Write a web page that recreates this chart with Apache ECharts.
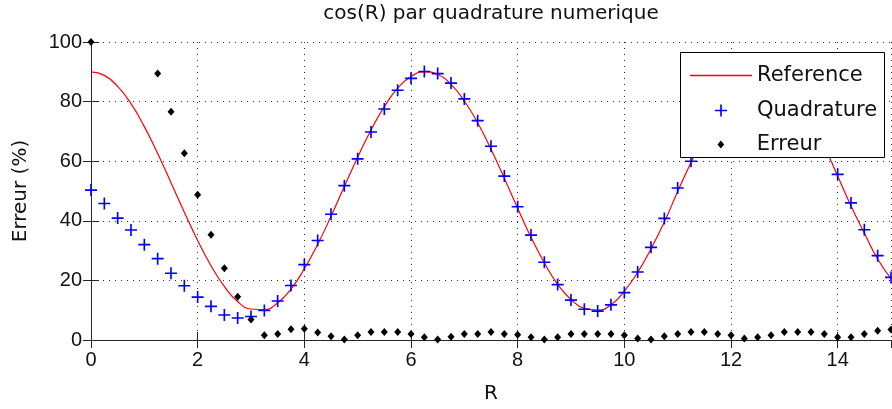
<!DOCTYPE html>
<html><head><meta charset="utf-8">
<script src="https://cdn.jsdelivr.net/npm/echarts@6/dist/echarts.min.js"></script>
<style>html,body{margin:0;padding:0;background:#fff}#c{width:892px;height:409px}</style>
</head><body><div id="c"></div>
<script>
// ---- data ----
const rValues = [0, 0.25, 0.5, 0.75, 1, 1.25, 1.5, 1.75, 2, 2.25, 2.5, 2.75, 3, 3.25, 3.5, 3.75,
  4, 4.25, 4.5, 4.75, 5, 5.25, 5.5, 5.75, 6, 6.25, 6.5, 6.75, 7, 7.25, 7.5, 7.75,
  8, 8.25, 8.5, 8.75, 9, 9.25, 9.5, 9.75, 10, 10.25, 10.5, 10.75, 11, 11.25, 11.5, 11.75,
  12, 12.25, 12.5, 12.75, 13, 13.25, 13.5, 13.75, 14, 14.25, 14.5, 14.75, 15];

const referenceValues = [90.0, 88.8, 85.1, 79.3, 71.6, 62.6, 52.8, 42.9, 33.4, 24.9, 18.0, 12.9, 10.4, 10.2, 12.5, 17.1,
  23.9, 32.1, 41.5, 51.5, 61.3, 70.5, 78.3, 84.5, 88.4, 90.0, 89.1, 85.8, 80.2, 72.9, 64.0, 54.3,
  44.2, 34.5, 25.9, 18.7, 13.6, 10.6, 10.0, 11.8, 16.4, 22.7, 30.6, 39.6, 49.8, 59.6, 68.6, 77.0,
  83.8, 88.1, 90.0, 89.3, 86.3, 81.2, 74.2, 65.1, 55.0, 45.0, 35.9, 27.2, 20.6];

const quadratureValues = [50.3, 45.8, 40.9, 36.9, 32.0, 27.3, 22.4, 18.2, 14.4, 11.3, 8.4, 7.4, 7.9, 9.9, 13.1, 18.3,
  25.3, 33.4, 42.2, 51.8, 60.8, 69.8, 77.5, 83.8, 87.8, 90.1, 89.4, 86.2, 80.9, 73.6, 65.0, 55.0,
  44.7, 35.2, 26.1, 18.6, 13.4, 10.3, 9.7, 11.8, 15.9, 22.8, 31.1, 40.8, 51.0, 60.0, 69.0, 77.2,
  83.8, 88.2, 90.0, 89.2, 86.2, 81.0, 74.0, 65.2, 55.6, 46.0, 37.0, 28.3, 21.0];

const erreurValues = [100, null, null, null, null, 89.4, 76.6, 62.7, 48.7, 35.3, 24.1, 14.5, 6.9, 1.6, 2.0, 3.6,
  3.8, 2.5, 1.3, 0.2, 1.6, 2.7, 2.7, 2.7, 2.0, 0.9, 0.2, 1.1, 2.0, 2.0, 2.7, 2.0,
  1.8, 0.9, 0.2, 0.9, 2.0, 2.0, 2.0, 2.0, 1.6, 0.5, 0.2, 1.3, 2.0, 2.7, 2.7, 2.0,
  1.6, 0.5, 0.9, 1.6, 2.7, 2.7, 2.7, 2.0, 0.9, 0.9, 2.0, 3.1, 3.5];

const xTicks = [0, 2, 4, 6, 8, 10, 12, 14];
const yTicks = [0, 20, 40, 60, 80, 100];
const xMax = 15;

// ---- drawing ----
const plusPath = 'path://M0,9.5H22V12.5H0Z M9.5,0H12.5V22H9.5Z';
const diamondPath = 'path://M5,0L10,6L5,12L0,6Z';
const linePath = 'path://M0,0H62V1.6H0Z';
const axisColor = '#262626';
const gridDots = { color: '#303030', width: 1, type: [1, 5] };
const tickFont = { fontFamily: 'Liberation Sans', fontSize: 20, color: '#111' };
const textFont = { fontFamily: 'DejaVu Sans', fontSize: 20, color: '#111' };

const pairs = (vals) => rValues.map((r, i) => [r, vals[i]]).filter(p => p[1] !== null);

const xBase = { type: 'value', min: xTicks[0], max: xMax, interval: xTicks[1] - xTicks[0] };
const yBase = { type: 'value', min: yTicks[0], max: yTicks[yTicks.length - 1], interval: yTicks[1] - yTicks[0] };

const legendCommon = {
  padding: 0, itemWidth: 62, selectedMode: false, z: 110, symbolKeepAspect: true,
  textStyle: { fontFamily: 'DejaVu Sans', fontSize: 21, color: '#111' }
};

const chart = echarts.init(document.getElementById('c'), null, { renderer: 'canvas' });
chart.setOption({
  animation: false,
  backgroundColor: '#ffffff',
  title: {
    text: 'cos(R) par quadrature numerique', left: 491, top: 4, textAlign: 'center', padding: 0,
    textStyle: Object.assign({ fontWeight: 'normal' }, textFont)
  },
  grid: { left: 91, right: 1, top: 42, bottom: 68 },
  xAxis: [
    Object.assign({}, xBase, {
      position: 'bottom', name: 'R', nameLocation: 'middle', nameGap: 44, nameTextStyle: textFont,
      axisLine: { show: true, lineStyle: { color: axisColor, width: 1 } },
      axisTick: { show: true, inside: true, length: 8, lineStyle: { color: axisColor } },
      axisLabel: Object.assign({ showMaxLabel: false, margin: 10 }, tickFont),
      splitLine: { show: true, lineStyle: gridDots }
    }),
    Object.assign({}, xBase, {
      position: 'top',
      axisLine: { show: true, lineStyle: { color: axisColor, width: 1 } },
      axisTick: { show: true, inside: true, length: 8, lineStyle: { color: axisColor } },
      axisLabel: { show: false }, splitLine: { show: false }
    })
  ],
  yAxis: [
    Object.assign({}, yBase, {
      position: 'left', name: 'Erreur (%)', nameLocation: 'middle', nameGap: 60, nameTextStyle: textFont,
      axisLine: { show: true, lineStyle: { color: axisColor, width: 1 } },
      axisTick: { show: true, inside: true, length: 8, lineStyle: { color: axisColor } },
      axisLabel: Object.assign({ margin: 9 }, tickFont),
      splitLine: { show: true, lineStyle: gridDots }
    }),
    Object.assign({}, yBase, {
      position: 'right',
      axisLine: { show: true, lineStyle: { color: axisColor, width: 1 } },
      axisTick: { show: true, inside: true, length: 8, lineStyle: { color: axisColor } },
      axisLabel: { show: false }, splitLine: { show: false }
    })
  ],
  graphic: [{
    type: 'rect', z: 100, silent: true,
    shape: { x: 680.5, y: 52.5, width: 204, height: 105 },
    style: { fill: '#ffffff', stroke: '#000000', lineWidth: 1 }
  }],
  legend: [
    Object.assign({}, legendCommon, { data: [{ name: 'Reference', icon: linePath }], left: 690, top: 65, itemHeight: 14 }),
    Object.assign({}, legendCommon, { data: [{ name: 'Quadrature', icon: plusPath }], left: 715, top: 100, itemHeight: 12 }),
    Object.assign({}, legendCommon, { data: [{ name: 'Erreur', icon: diamondPath }], left: 717.5, top: 134, itemHeight: 8 })
  ],
  series: [
    {
      name: 'Reference', type: 'line', data: pairs(referenceValues), smooth: true, symbol: 'none',
      lineStyle: { color: '#ff0000', width: 1.2 }, itemStyle: { color: '#ff0000' }, z: 2
    },
    {
      name: 'Quadrature', type: 'scatter', data: pairs(quadratureValues), symbol: plusPath, symbolSize: 12,
      itemStyle: { color: '#0000ff', opacity: 1 }, z: 3
    },
    {
      name: 'Erreur', type: 'scatter', data: pairs(erreurValues), symbol: diamondPath, symbolSize: [7, 8],
      itemStyle: { color: '#000000', opacity: 1 }, z: 4
    }
  ]
});
</script>
</body></html>
